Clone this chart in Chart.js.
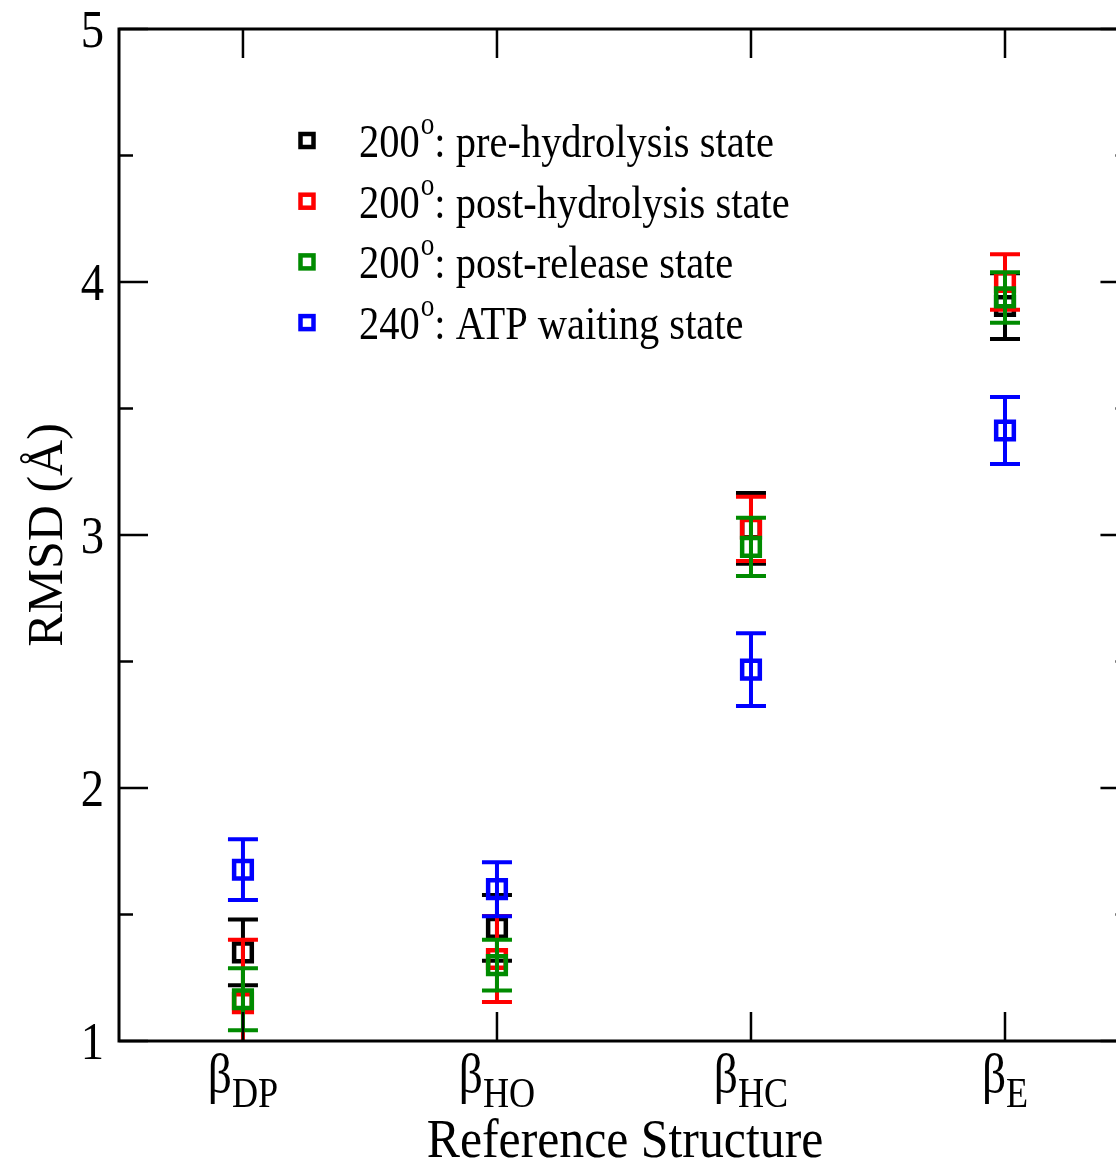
<!DOCTYPE html>
<html>
<head>
<meta charset="UTF-8">
<title>RMSD vs reference structure</title>
<script src="https://cdn.jsdelivr.net/npm/chart.js@4.4.1/dist/chart.umd.min.js"></script>
<style>
    html, body { margin: 0; padding: 0; overflow: hidden; background: #fff; }
    #wrap { width: 1116px; height: 1162px; }
</style>
</head>
<body>
<div id="wrap"><canvas id="chart" width="1116" height="1162"></canvas></div>
<script>
// categories (beta subunit reference structures), drawn as beta + subscript
var categories = ['DP', 'HO', 'HC', 'E'];
var catX = [1, 2, 3, 4];
var xRightAxis = 4.49;   // right frame of the original plot, cut off by the picture edge

// series
var seriesAngles = ['200', '200', '200', '240'];
var seriesNames = ['pre-hydrolysis state', 'post-hydrolysis state', 'post-release state', 'ATP waiting state'];
var seriesColors = ['#000000', '#ff0000', '#008b00', '#0000ff'];

var preHydrolysis = [1.35, 1.447, 3.026, 3.905];
var preHydrolysisErr = [0.13, 0.13, 0.14, 0.13];
var postHydrolysis = [1.15, 1.324, 3.024, 4.0];
var postHydrolysisErr = [0.25, 0.17, 0.127, 0.11];
var postRelease = [1.165, 1.30, 2.953, 3.939];
var postReleaseErr = [0.123, 0.10, 0.115, 0.10];
var atpWaiting = [1.677, 1.60, 2.468, 3.413];
var atpWaitingErr = [0.12, 0.107, 0.144, 0.132];

// axis ticks
var yMajor = [1, 2, 3, 4, 5];
var yMinor = [1.5, 2.5, 3.5, 4.5];

var allValues = [preHydrolysis, postHydrolysis, postRelease, atpWaiting];
var allErrs = [preHydrolysisErr, postHydrolysisErr, postReleaseErr, atpWaitingErr];

var FONT = '"Liberation Serif", "Times New Roman", serif';

function drawText(ctx, txt, x, y, size, align, sx) {
    ctx.save();
    ctx.translate(x, y);
    ctx.scale(sx, 1);
    ctx.font = size + 'px ' + FONT;
    ctx.textAlign = align;
    ctx.textBaseline = 'alphabetic';
    ctx.fillStyle = '#000';
    ctx.fillText(txt, 0, 0);
    ctx.restore();
}
function textWidth(ctx, txt, size, sx) {
    ctx.save();
    ctx.font = size + 'px ' + FONT;
    var w = ctx.measureText(txt).width * sx;
    ctx.restore();
    return w;
}

// error bars, drawn just under each dataset's squares
var errorBars = {
    id: 'errorBars',
    beforeDatasetDraw: function(chart, args) {
        var ds = chart.data.datasets[args.index];
        var xs = chart.scales.x, ys = chart.scales.y, ctx = chart.ctx, a = chart.chartArea;
        ctx.save();
        ctx.beginPath();
        ctx.rect(a.left, a.top, a.right - a.left, a.bottom - a.top);
        ctx.clip();
        ctx.strokeStyle = ds.borderColor;
        ctx.lineWidth = 4;
        ds.data.forEach(function(p) {
            var px = xs.getPixelForValue(p.x);
            var top = ys.getPixelForValue(p.y + p.err);
            var bot = ys.getPixelForValue(p.y - p.err);
            ctx.beginPath();
            ctx.moveTo(px, top); ctx.lineTo(px, bot);
            ctx.moveTo(px - 15, top); ctx.lineTo(px + 15, top);
            ctx.moveTo(px - 15, bot); ctx.lineTo(px + 15, bot);
            ctx.stroke();
        });
        ctx.restore();
    }
};

// frame, inward ticks, labels, titles and legend
var frame = {
    id: 'frame',
    afterDraw: function(chart) {
        var ctx = chart.ctx, a = chart.chartArea;
        var xs = chart.scales.x, ys = chart.scales.y;
        var right = xs.getPixelForValue(xRightAxis);
        ctx.save();
        ctx.strokeStyle = '#000';
        ctx.lineWidth = 3;
        ctx.strokeRect(a.left, a.top, right - a.left, a.bottom - a.top);

        ctx.lineWidth = 2.5;
        ctx.beginPath();
        yMajor.forEach(function(v) {
            var py = ys.getPixelForValue(v);
            ctx.moveTo(a.left, py); ctx.lineTo(a.left + 29, py);
            ctx.moveTo(right, py); ctx.lineTo(right - 29, py);
        });
        yMinor.forEach(function(v) {
            var py = ys.getPixelForValue(v);
            ctx.moveTo(a.left, py); ctx.lineTo(a.left + 14, py);
            ctx.moveTo(right, py); ctx.lineTo(right - 14, py);
        });
        catX.forEach(function(v) {
            var px = xs.getPixelForValue(v);
            ctx.moveTo(px, a.bottom); ctx.lineTo(px, a.bottom - 29);
            ctx.moveTo(px, a.top); ctx.lineTo(px, a.top + 29);
        });
        ctx.stroke();

        // y tick labels
        yMajor.forEach(function(v) {
            drawText(ctx, String(v), a.left - 15, ys.getPixelForValue(v) + 17.5, 53, 'right', 0.88);
        });

        // x tick labels: beta with subscript
        categories.forEach(function(c, i) {
            var px = xs.getPixelForValue(catX[i]);
            var wb = textWidth(ctx, '\u03b2', 54, 0.88);
            var ws = textWidth(ctx, c, 42, 0.86);
            var x0 = px - (wb + ws) / 2;
            drawText(ctx, '\u03b2', x0, a.bottom + 51, 54, 'left', 0.88);
            drawText(ctx, c, x0 + wb, a.bottom + 66, 42, 'left', 0.86);
        });

        // axis titles
        drawText(ctx, 'Reference Structure', 625, 1157, 55, 'center', 0.905);
        ctx.save();
        ctx.translate(62, 535);
        ctx.rotate(-Math.PI / 2);
        ctx.font = '50px ' + FONT;
        ctx.textAlign = 'center';
        ctx.fillStyle = '#000';
        ctx.fillText('RMSD (\u00c5)', 0, 0);
        ctx.restore();

        // legend
        seriesNames.forEach(function(name, i) {
            var cy = 140.5 + i * 60.7;
            ctx.strokeStyle = seriesColors[i];
            ctx.lineWidth = 4.5;
            ctx.strokeRect(307 - 6.5, cy - 6.5, 13, 13);
            var base = 157 + i * 60.7;
            var x = 359;
            drawText(ctx, seriesAngles[i], x, base, 46, 'left', 0.88);
            x += textWidth(ctx, seriesAngles[i], 46, 0.88) + 1;
            drawText(ctx, 'o', x, base - 23, 31, 'left', 0.88);
            x += textWidth(ctx, 'o', 31, 0.88);
            drawText(ctx, ': ' + name, x, base, 46, 'left', 0.88);
        });
        ctx.restore();
    }
};

function makeDataset(i) {
    return {
        label: seriesAngles[i] + '\u00b0: ' + seriesNames[i],
        data: catX.map(function(x, k) { return { x: x, y: allValues[i][k], err: allErrs[i][k] }; }),
        borderColor: seriesColors[i],
        backgroundColor: 'transparent',
        pointStyle: 'rect',
        pointRadius: 12.5,
        pointBorderWidth: 4.5,
        showLine: false,
        order: 4 - i
    };
}

var canvas = document.getElementById('chart').getContext('2d');
window.rmsdChart = new Chart(canvas, {
    type: 'scatter',
    data: { datasets: [0, 1, 2, 3].map(makeDataset) },
    options: {
        responsive: false,
        animation: false,
        devicePixelRatio: 1,
        layout: { autoPadding: false, padding: { top: 29, right: 0, left: 0, bottom: 0 } },
        plugins: { legend: { display: false }, tooltip: { enabled: false } },
        scales: {
            x: {
                type: 'linear', min: 0.512, max: 4.437,
                ticks: { display: false },
                grid: { display: false },
                border: { display: false },
                afterFit: function(s) { s.height = 121; s.paddingLeft = 0; s.paddingRight = 0; }
            },
            y: {
                type: 'linear', min: 1, max: 5,
                ticks: { display: false },
                grid: { display: false },
                border: { display: false },
                afterFit: function(s) { s.width = 119; s.paddingTop = 0; s.paddingBottom = 0; }
            }
        }
    },
    plugins: [errorBars, frame]
});
</script>
</body>
</html>
